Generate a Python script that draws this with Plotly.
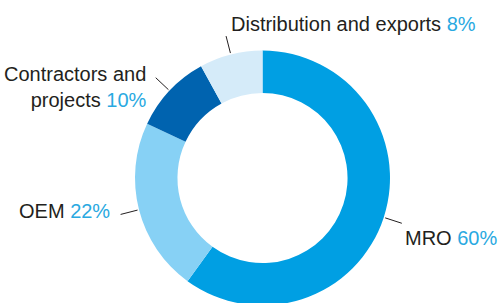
import math
import plotly.graph_objects as go

# ---- data ----
categories = ["MRO", "OEM", "Contractors and projects", "Distribution and exports"]
label_lines = ["MRO", "OEM", "Contractors and<br>projects", "Distribution and exports"]
values = [60, 22, 10, 8]
colors = ["#009FE3", "#87D1F5", "#0063AF", "#D5EBF9"]

W, H = 499, 306
TEXT = "#231F20"
PCT = "#29A9E1"
FONT = "Liberation Sans, Arial, sans-serif"
FS = 20

# pie geometry (pixels)
CX, CY, R = 262.5, 178.0, 127.5
dom_x = [(CX - R) / W, (CX + R) / W]
dom_y = [max(0, 1 - (CY + R) / H), 1 - (CY - R) / H]

fig = go.Figure(go.Pie(
    labels=categories, values=values, sort=False, direction="clockwise",
    rotation=0, hole=0.667, textinfo="none", hoverinfo="label+percent",
    marker=dict(colors=colors, line=dict(width=0)),
    domain=dict(x=dom_x, y=dom_y), showlegend=False,
))

def px(x):
    return x / W

def py(y):
    return 1 - y / H

# leader lines at slice mid-angles (clockwise from 12 o'clock)
total = sum(values)
cum = 0
mids = []
for v in values:
    mids.append((cum + v / 2) / total * 360)
    cum += v
for a in mids:
    t = math.radians(a)
    x0, y0 = CX + (R + 1.5) * math.sin(t), CY - (R + 1.5) * math.cos(t)
    x1, y1 = CX + (R + 19) * math.sin(t), CY - (R + 19) * math.cos(t)
    fig.add_shape(type="line", xref="paper", yref="paper",
                  x0=px(x0), y0=py(y0), x1=px(x1), y1=py(y1),
                  line=dict(color=TEXT, width=1))

# label placements (pixel anchor, xanchor)
placements = [
    (403, 238, "left", "left"),
    (112, 211, "right", "right"),
    (149, 87, "right", "right"),
    (229, 24, "left", "left"),
]
for name, v, (x, y, xa, al) in zip(label_lines, values, placements):
    fig.add_annotation(
        xref="paper", yref="paper", x=px(x), y=py(y), xanchor=xa, yanchor="middle",
        align=al, showarrow=False,
        text=f"{name} <span style='color:{PCT}'>{v}%</span>",
        font=dict(family=FONT, size=FS, color=TEXT),
    )

fig.update_layout(
    width=W, height=H, margin=dict(l=0, r=0, t=0, b=0),
    paper_bgcolor="white", plot_bgcolor="white",
)
fig.write_html(
    "out.html",
    config={"displayModeBar": False},
    post_script="document.body.style.margin='0';document.body.style.overflow='hidden';",
)
